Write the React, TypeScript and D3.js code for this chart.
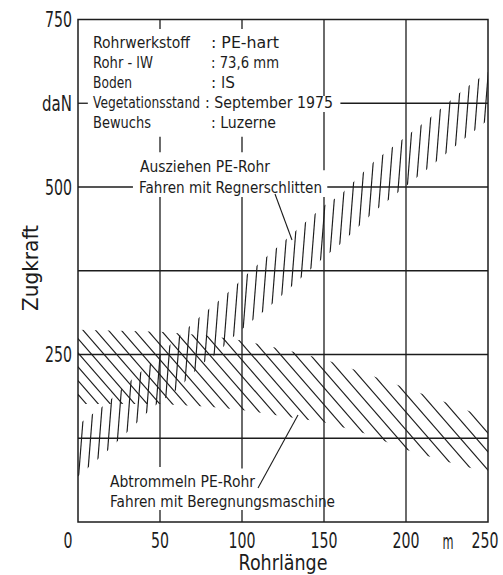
import React from "react";
import * as d3 from "d3";

// Rohrlänge in m, Zugkraft in daN
const xTicks = [0, 50, 100, 150, 200, 250];
const yTicks = [250, 500, 750];
const gridX = [50, 100, 150, 200];
const gridY = [125, 250, 375, 500, 625];

// Ausziehen PE-Rohr / Fahren mit Regnerschlitten (band edges)
const ausX = [0, 17, 33, 45, 61, 76, 84, 94, 104, 115, 150, 160, 181, 213, 235, 250];
const ausLo = [68, 104, 141, 170, 199, 237, 250, 275, 296, 318, 395, 415, 464, 527, 571, 600];
const ausHi = [145, 176, 213, 238, 276, 310, 326, 348, 372, 396, 472, 488, 539, 600, 645, 672];

// Abtrommeln PE-Rohr / Fahren mit Beregnungsmaschine
const abX = [0, 50, 80, 100, 125, 150, 175, 200, 225, 250];
const abLo = [176, 176, 172, 167, 158, 149, 132, 108, 90, 74];
const abHi = [287, 284, 278, 271, 258, 243, 222, 200, 178, 155];

const infoKeys = ["Rohrwerkstoff", "Rohr - lW", "Boden", "Vegetationsstand", "Bewuchs"];
const infoVals = ["PE-hart", "73,6 mm", "lS", "September 1975", "Luzerne"];

const W = 503;
const H = 575;
const ink = "#1c1c1c";

// squeezed lettering, the drawing uses narrow stencil letters
function Label(props: {
  x: number;
  y: number;
  w?: number;
  size?: number;
  anchor?: "start" | "middle" | "end";
  rotate?: number;
  children: React.ReactNode;
}) {
  const { x, y, w, size = 16.5, anchor = "start", rotate, children } = props;
  return (
    <text
      x={rotate ? 0 : x}
      y={rotate ? 0 : y}
      transform={rotate ? `translate(${x},${y}) rotate(${rotate})` : undefined}
      dy="0.36em"
      fontSize={size}
      textAnchor={anchor}
      textLength={w}
      lengthAdjust={w ? "spacingAndGlyphs" : undefined}
    >
      {children}
    </text>
  );
}

export default function App() {
  const x = d3.scaleLinear().domain([0, 250]).range([78, 488]);
  const y = d3.scaleLinear().domain([0, 750]).range([522, 19.5]);

  const ausArea = d3
    .area<number>()
    .x((d) => x(ausX[d]))
    .y0((d) => y(ausLo[d]))
    .y1((d) => y(ausHi[d]));
  const abArea = d3
    .area<number>()
    .x((d) => x(abX[d]))
    .y0((d) => y(abLo[d]))
    .y1((d) => y(abHi[d]));

  // hatch strokes (clipped to the bands)
  const top = y(750);
  const bot = y(0);
  const ausHatch: string[] = [];
  const lean = 4 / 51;
  for (let px = 30; px < 500; px += 9) {
    ausHatch.push(`M${px},${bot}L${px + lean * (bot - top)},${top}`);
  }
  const abHatch: string[] = [];
  const slope = 1.15;
  let xt = -500;
  while (xt < 500) {
    const xm = xt + (380 - top) / slope;
    const t = Math.max(0, Math.min(1, (xm - 78) / 410));
    abHatch.push(`M${xt},${top}L${xt + (bot - top) / slope},${bot}`);
    xt += 12 + 5 * t;
  }

  // grid segments (gaps where the lettering sits)
  const vSeg: Record<number, [number, number][]> = {
    50: [[0, 18], [82, 485], [552, 575], [736, 750]],
    100: [[0, 18], [80, 485], [552, 575], [736, 750]],
    150: [[0, 485], [525, 612], [636, 750]],
    200: [[0, 750]],
  };
  const hSeg: Record<number, [number, number][]> = {
    125: [[0, 250]],
    250: [[0, 250]],
    375: [[0, 250]],
    500: [[0, 33.5], [152, 250]],
    625: [[0, 6], [160, 250]],
  };

  const keyW = [97, 60, 39, 107, 58];
  const valW = [68, 68, 24, 128, 65];
  const tickW = (v: number) => String(v).length * 9;

  return (
    <svg
      width={W}
      height={H}
      viewBox={`0 0 ${W} ${H}`}
      style={{ position: "absolute", left: 0, top: 0, background: "#fff" }}
      fontFamily="'DejaVu Sans', sans-serif"
    >
      <defs>
        <clipPath id="clipAus">
          <path d={ausArea(d3.range(ausX.length)) || ""} />
        </clipPath>
        <clipPath id="clipAb">
          <path d={abArea(d3.range(abX.length)) || ""} />
        </clipPath>
        <clipPath id="clipPlot">
          <rect x={x(0)} y={top} width={x(250) - x(0)} height={bot - top} />
        </clipPath>
      </defs>

      {/* grid */}
      <g stroke={ink} strokeWidth={1.3} fill="none">
        {gridX.map((gx) =>
          vSeg[gx].map(([a, b], i) => (
            <line key={`v${gx}-${i}`} x1={x(gx)} x2={x(gx)} y1={y(a)} y2={y(b)} />
          ))
        )}
        {gridY.map((gy) =>
          hSeg[gy].map(([a, b], i) => (
            <line key={`h${gy}-${i}`} x1={x(a)} x2={x(b)} y1={y(gy)} y2={y(gy)} />
          ))
        )}
      </g>

      {/* bands */}
      <g clipPath="url(#clipPlot)">
        <g clipPath="url(#clipAb)" stroke={ink} strokeWidth={1.15}>
          {abHatch.map((d, i) => (
            <path key={i} d={d} />
          ))}
        </g>
        <g clipPath="url(#clipAus)" stroke={ink} strokeWidth={1.15}>
          {ausHatch.map((d, i) => (
            <path key={i} d={d} />
          ))}
        </g>
      </g>

      {/* frame */}
      <rect
        x={x(0)}
        y={top}
        width={x(250) - x(0)}
        height={bot - top}
        fill="none"
        stroke={ink}
        strokeWidth={1.5}
      />

      {/* tick labels and titles */}
      <g fill={ink}>
        {yTicks.map((v) => (
          <Label key={v} x={72} y={y(v)} w={tickW(v)} size={21} anchor="end">
            {v}
          </Label>
        ))}
        <Label x={72} y={y(625)} w={30} size={21} anchor="end">
          daN
        </Label>
        {xTicks.map((v) => (
          <Label
            key={v}
            x={v === 0 ? x(v) - 10 : v === 250 ? x(v) - 3 : x(v)}
            y={540}
            w={tickW(v)}
            size={21}
            anchor="middle"
          >
            {v}
          </Label>
        ))}
        <Label x={448} y={541} w={11} size={21} anchor="middle">
          m
        </Label>
        <Label x={283} y={562} w={89} size={21} anchor="middle">
          Rohrlänge
        </Label>
        <Label x={30} y={268} w={86} size={21} anchor="middle" rotate={-90}>
          Zugkraft
        </Label>
      </g>

      {/* info block */}
      <g fill={ink}>
        {infoKeys.map((k, i) => (
          <g key={k}>
            <Label x={93} y={42 + i * 20} w={keyW[i]}>
              {k}
            </Label>
            <Label x={k === "Vegetationsstand" ? 205 : 211} y={42 + i * 20} w={valW[i]}>
              {": " + infoVals[i]}
            </Label>
          </g>
        ))}
      </g>

      {/* band labels */}
      <g fill={ink}>
        <Label x={140} y={166} w={130}>
          Ausziehen PE-Rohr
        </Label>
        <Label x={139} y={187} w={183}>
          Fahren mit Regnerschlitten
        </Label>
        <Label x={110} y={481} w={145}>
          Abtrommeln PE-Rohr
        </Label>
        <Label x={110} y={501} w={225}>
          Fahren mit Beregnungsmaschine
        </Label>
      </g>
      <g stroke={ink} strokeWidth={1.1}>
        <line x1={275} y1={194} x2={292} y2={240} />
        <line x1={258} y1={488} x2={298} y2={415} />
      </g>
    </svg>
  );
}
